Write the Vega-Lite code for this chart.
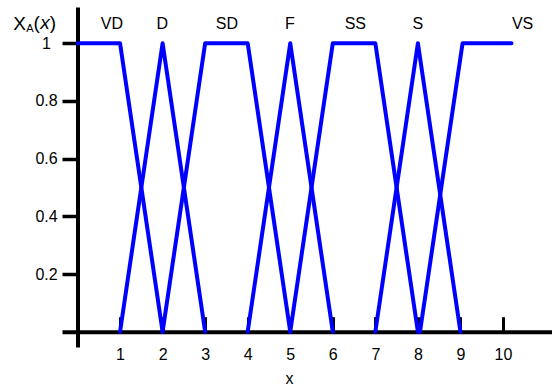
{
  "$schema": "https://vega.github.io/schema/vega-lite/v6.json",
  "autosize": "none",
  "padding": {"left": 62, "top": 7, "right": 0, "bottom": 40},
  "width": 490,
  "height": 340,
  "background": "white",
  "config": {
    "view": {"stroke": null},
    "font": "Liberation Sans",
    "axis": {"grid": false}
  },
  "datasets": {
    "curves": [
      {"set": "VD", "i": 0, "x": 0, "y": 1}, {"set": "VD", "i": 1, "x": 1, "y": 1}, {"set": "VD", "i": 2, "x": 2, "y": 0},
      {"set": "D", "i": 0, "x": 1, "y": 0}, {"set": "D", "i": 1, "x": 2, "y": 1}, {"set": "D", "i": 2, "x": 3, "y": 0},
      {"set": "SD", "i": 0, "x": 2, "y": 0}, {"set": "SD", "i": 1, "x": 3, "y": 1}, {"set": "SD", "i": 2, "x": 4, "y": 1}, {"set": "SD", "i": 3, "x": 5, "y": 0},
      {"set": "F", "i": 0, "x": 4, "y": 0}, {"set": "F", "i": 1, "x": 5, "y": 1}, {"set": "F", "i": 2, "x": 6, "y": 0},
      {"set": "SS", "i": 0, "x": 5, "y": 0}, {"set": "SS", "i": 1, "x": 6, "y": 1}, {"set": "SS", "i": 2, "x": 7, "y": 1}, {"set": "SS", "i": 3, "x": 8, "y": 0},
      {"set": "S", "i": 0, "x": 7, "y": 0}, {"set": "S", "i": 1, "x": 8, "y": 1}, {"set": "S", "i": 2, "x": 9, "y": 0},
      {"set": "VS", "i": 0, "x": 8.05, "y": 0}, {"set": "VS", "i": 1, "x": 9.05, "y": 1}, {"set": "VS", "i": 2, "x": 10.2, "y": 1}
    ],
    "labels": [
      {"t": "VD", "x": 0.81, "y": 1.049},
      {"t": "D", "x": 1.99, "y": 1.049},
      {"t": "SD", "x": 3.51, "y": 1.049},
      {"t": "F", "x": 4.99, "y": 1.049},
      {"t": "SS", "x": 6.53, "y": 1.049},
      {"t": "S", "x": 8.0, "y": 1.049},
      {"t": "VS", "x": 10.46, "y": 1.049}
    ],
    "titleBig": [
      {"t": "X", "x": -1.51, "y": 1.0458},
      {"t": "(", "x": -1.034, "y": 1.049},
      {"t": ")", "x": -0.655, "y": 1.049}
    ],
    "titleSub": [
      {"t": "A", "x": -1.205, "y": 1.039}
    ],
    "titleItalic": [
      {"t": "x", "x": -0.878, "y": 1.049}
    ]
  },
  "layer": [
    {
      "data": {"name": "curves"},
      "mark": {"type": "line", "color": "#0000FF", "strokeWidth": 4, "strokeJoin": "round", "strokeCap": "round"},
      "encoding": {
        "x": {
          "field": "x", "type": "quantitative",
          "scale": {"domain": [-0.3643, 11.152], "nice": false, "zero": false},
          "axis": {
            "values": [1, 2, 3, 4, 5, 6, 7, 8, 9, 10],
            "offset": -15.3,
            "domainColor": "black", "domainWidth": 4,
            "tickColor": "black", "tickWidth": 3, "tickSize": -15,
            "labelFontSize": 16, "labelColor": "black", "labelPadding": 30, "labelBaseline": "top",
            "title": "x", "titleFontSize": 16, "titleFontWeight": "normal", "titleColor": "black",
            "titleX": 227, "titleY": 52, "titleBaseline": "alphabetic", "titleAnchor": "start", "titleAlign": "center"
          }
        },
        "y": {
          "field": "y", "type": "quantitative",
          "scale": {"domain": [-0.053, 1.1255], "nice": false, "zero": false},
          "axis": {
            "values": [0.2, 0.4, 0.6, 0.8, 1],
            "offset": -15.5,
            "domainColor": "black", "domainWidth": 4,
            "tickColor": "black", "tickWidth": 3.5, "tickSize": 15.5,
            "labelFontSize": 16, "labelColor": "black", "labelPadding": 16, "labelAlign": "center", "labelBaseline": "middle",
            "labelExpr": "datum.value == 1 ? '1' : format(datum.value, '.1f')",
            "title": null
          }
        },
        "detail": {"field": "set"},
        "order": {"field": "i"}
      }
    },
    {
      "data": {"name": "labels"},
      "mark": {"type": "text", "fontSize": 16, "align": "center", "baseline": "alphabetic", "color": "black"},
      "encoding": {
        "x": {"field": "x", "type": "quantitative"},
        "y": {"field": "y", "type": "quantitative"},
        "text": {"field": "t"}
      }
    },
    {
      "data": {"name": "titleBig"},
      "mark": {"type": "text", "fontSize": 19, "align": "left", "baseline": "alphabetic", "color": "black"},
      "encoding": {
        "x": {"field": "x", "type": "quantitative"},
        "y": {"field": "y", "type": "quantitative"},
        "text": {"field": "t"}
      }
    },
    {
      "data": {"name": "titleSub"},
      "mark": {"type": "text", "fontSize": 11, "align": "left", "baseline": "alphabetic", "color": "black"},
      "encoding": {
        "x": {"field": "x", "type": "quantitative"},
        "y": {"field": "y", "type": "quantitative"},
        "text": {"field": "t"}
      }
    },
    {
      "data": {"name": "titleItalic"},
      "mark": {"type": "text", "fontSize": 19, "fontStyle": "italic", "align": "left", "baseline": "alphabetic", "color": "black"},
      "encoding": {
        "x": {"field": "x", "type": "quantitative"},
        "y": {"field": "y", "type": "quantitative"},
        "text": {"field": "t"}
      }
    }
  ]
}
